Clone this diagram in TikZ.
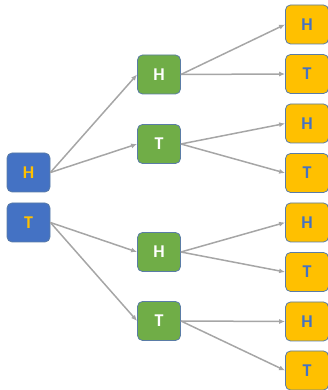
\documentclass[tikz,border=0pt]{standalone}
\usepackage{fontspec}
\setmainfont{Carlito}
\usetikzlibrary{arrows.meta}
\definecolor{coinblue}{HTML}{4472C4}
\definecolor{coingreen}{HTML}{70AD47}
\definecolor{coinyellow}{HTML}{FFC000}
\definecolor{coinedge}{HTML}{5A7CA6}
\definecolor{branch}{HTML}{A6A6A6}
\begin{document}
\begin{tikzpicture}[x=1pt,y=1pt,
  coin/.style={draw=coinedge,line width=0.8pt,rounded corners=5pt,
    minimum width=43pt,minimum height=39pt,inner sep=0pt,
    font=\fontsize{18}{18}\selectfont\bfseries},
  first/.style={coin,fill=coinblue,text=coinyellow},
  second/.style={coin,fill=coingreen,text=white},
  third/.style={coin,fill=coinyellow,text=coinblue},
  toss/.style={draw=branch,line width=1.5pt,-{Latex[length=6pt,width=5pt]}}]
\useasboundingbox (0,0) rectangle (328,390);
% first toss
\node[first] (h) at (28.5,217.5) {H};
\node[first] (t) at (28.5,167.5) {T};
% second toss
\node[second] (hh) at (159,315.5) {H};
\node[second] (ht) at (159,246) {T};
\node[second] (th) at (159,138) {H};
\node[second] (tt) at (159,69) {T};
% third toss
\node[third] (hhh) at (307,365.5) {H};
\node[third] (hht) at (307,316) {T};
\node[third] (hth) at (307,266.5) {H};
\node[third] (htt) at (307,217) {T};
\node[third] (thh) at (307,167.5) {H};
\node[third] (tht) at (307,118) {T};
\node[third] (tth) at (307,68.5) {H};
\node[third] (ttt) at (307,19.5) {T};
% branches
\draw[toss] (h.east) -- (hh.west);
\draw[toss] (h.east) -- (ht.west);
\draw[toss] (t.east) -- (th.west);
\draw[toss] (t.east) -- (tt.west);
\draw[toss] (hh.east) -- (hhh.west);
\draw[toss] (hh.east) -- (hht.west);
\draw[toss] (ht.east) -- (hth.west);
\draw[toss] (ht.east) -- (htt.west);
\draw[toss] (th.east) -- (thh.west);
\draw[toss] (th.east) -- (tht.west);
\draw[toss] (tt.east) -- (tth.west);
\draw[toss] (tt.east) -- (ttt.west);
\end{tikzpicture}
\end{document}
